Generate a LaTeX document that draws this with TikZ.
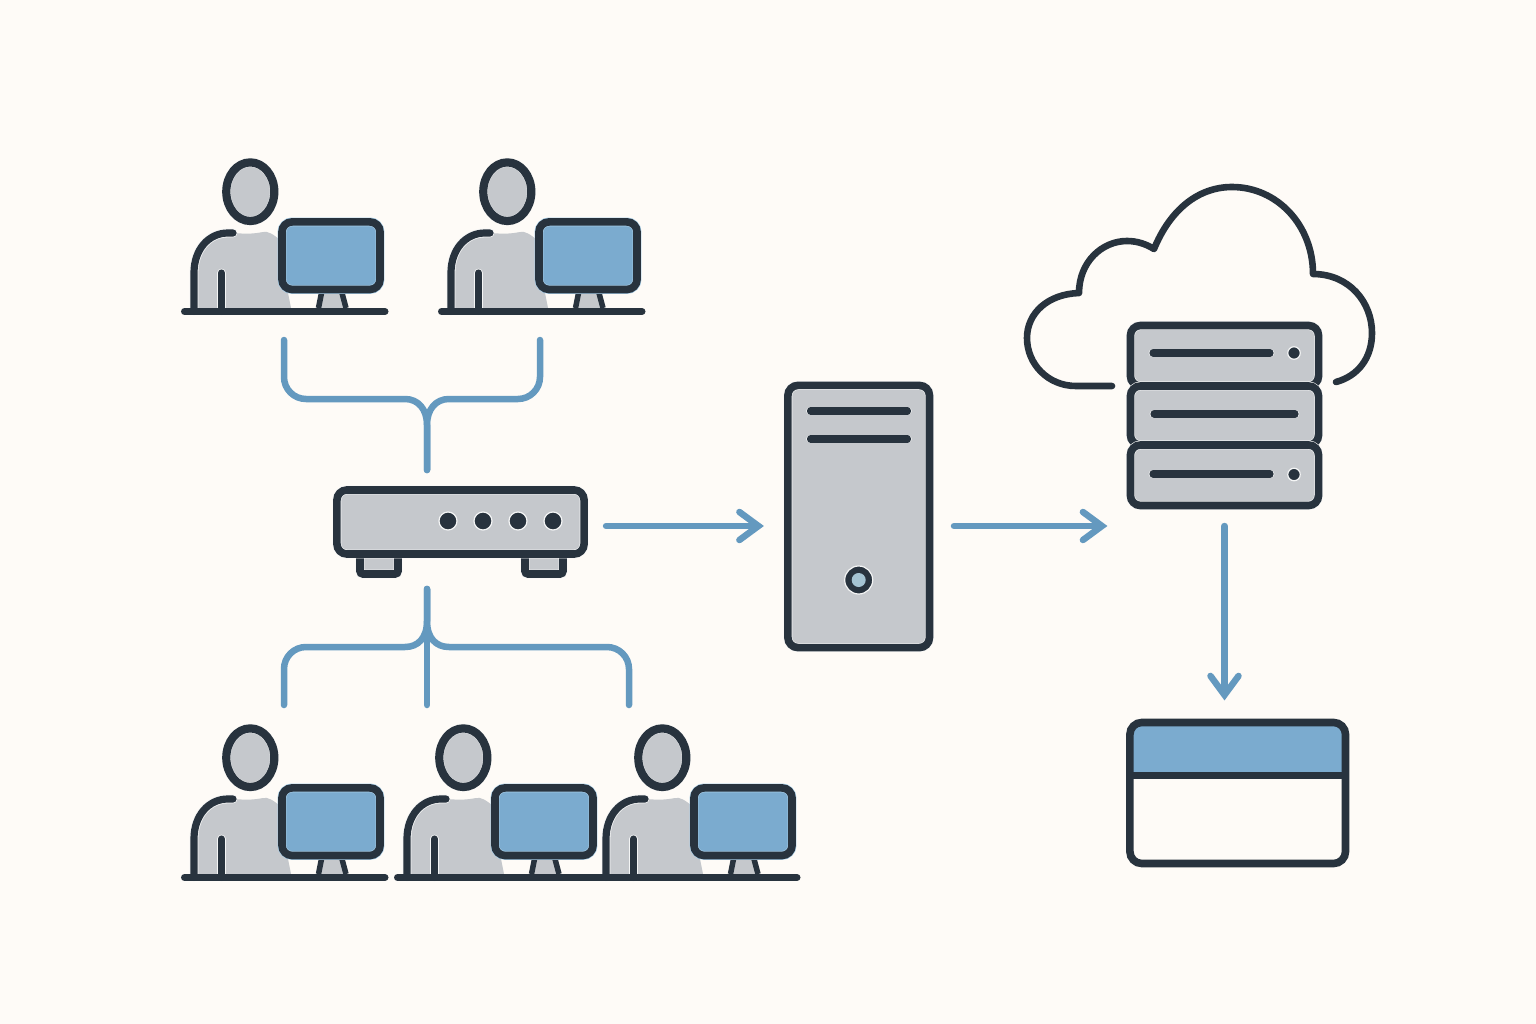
\documentclass[tikz,border=0pt]{standalone}
\usetikzlibrary{arrows.meta,shapes.geometric}
\definecolor{ink}{HTML}{28333E}
\definecolor{panel}{HTML}{C5C8CC}
\definecolor{screen}{HTML}{7BABCF}
\definecolor{screenrim}{HTML}{A6CDE8}
\definecolor{link}{HTML}{6499BF}
\definecolor{page}{HTML}{FEFBF7}
\definecolor{rim}{HTML}{F4F5F5}
\definecolor{lens}{HTML}{A4C3D2}
\tikzset{
  box/.style 2 args={preaction={fill=#1},preaction={draw=#2,line width=0.088cm},draw=ink,line width=0.076cm,inner sep=0pt,outer sep=0pt,rounded corners=0.1cm},
  unit/.style={box={panel}{rim}},
  bar/.style={preaction={draw=rim,line width=0.088cm,line cap=round},draw=ink,line width=0.072cm,line cap=round},
  led/.style={circle,fill=ink,draw=rim,line width=0.012cm,inner sep=0pt},
  link/.style={draw=link,line width=0.065cm,line cap=round,line join=round},
  flow/.style={link,->},
  >={Straight Barb[length=0.19cm,width=0.28cm,line cap=round,line join=miter]},
  desk/.pic={
    \fill[panel] (11,-3) -- (11,-36) .. controls (11,-60) and (30,-78) .. (52,-78)
      .. controls (62,-77) and (70,-77) .. (80,-79) .. controls (85,-80) and (90,-77) .. (97,-71)
      -- (105,-18) -- (108,-3) -- cycle;
    \draw[bar] (50,-78) -- (45,-78) .. controls (26,-78) and (11,-62) .. (11,-38) -- (11,0);
    \draw[bar] (38.5,-38) -- (38.5,0);
    \node[box={panel}{rim},ellipse,line width=0.082cm,minimum width=0.48cm,minimum height=0.586cm] (head) at (67.3,-119.3) {};
    \fill[panel] (137,-18) -- (159,-18) -- (163,-3) -- (135,-3) -- cycle;
    \draw[ink,line width=0.055cm] (138.5,-18) -- (135.5,-3);
    \draw[ink,line width=0.055cm] (159,-18) -- (163,-3);
    \node[box={screen}{screenrim},minimum width=0.98cm,minimum height=0.675cm] (monitor) at (148,-55.3) {};
    \draw[ink,line width=0.07cm,line cap=round] (1.5,0.5) -- (202,0.5);
  }
}
\begin{document}
\begin{tikzpicture}[x=0.01cm,y=-0.01cm]
  \fill[page] (0,0) rectangle (1536,1024);
  \useasboundingbox (0,0) rectangle (1536,1024);

  \pic (d1) at (183,311) {desk};
  \pic (d2) at (440,311) {desk};
  \pic (d3) at (183,877) {desk};
  \pic (d4) at (396,877) {desk};
  \pic (d5) at (595,877) {desk};

  \node[unit,minimum width=0.38cm,minimum height=0.24cm,rounded corners=0.03cm] (footl) at (379,562) {};
  \node[unit,minimum width=0.38cm,minimum height=0.24cm,rounded corners=0.03cm] (footr) at (544,562) {};
  \node[unit,minimum width=2.47cm,minimum height=0.64cm] (router) at (460.5,522) {};
  \foreach \x in {448,483,518,553}
    \node[led,minimum size=0.18cm] (led\x) at (\x,521) {};

  \node[unit,minimum width=1.415cm,minimum height=2.62cm] (tower) at (858.7,516.5) {};
  \draw[bar] (810.5,411) -- (907.5,411);
  \draw[bar] (810.5,439) -- (907.5,439);
  \node[led,minimum size=0.28cm] (disc) at (858.7,580) {};
  \node[circle,fill=lens,inner sep=0pt,minimum size=0.14cm] (lens) at (858.7,580) {};

  \draw[ink,line width=0.066cm,line cap=round,line join=round] (1112,386) -- (1076,386)
    .. controls (1048,386) and (1027,364) .. (1027,338)
    .. controls (1027,313) and (1048,294) .. (1079,293)
    .. controls (1079,262) and (1102,241) .. (1127,241)
    .. controls (1137,241) and (1146,244) .. (1154,249)
    .. controls (1170,210) and (1198,187) .. (1232,187)
    .. controls (1277,187) and (1313,225) .. (1313,274)
    .. controls (1349,274) and (1372,302) .. (1372,333)
    .. controls (1372,358) and (1358,376) .. (1336,382);

  \node[unit,minimum width=1.88cm,minimum height=0.605cm] (rack1) at (1224.5,355.75) {};
  \node[unit,minimum width=1.88cm,minimum height=0.59cm] (rack2) at (1224.5,415.5) {};
  \node[unit,minimum width=1.88cm,minimum height=0.605cm] (rack3) at (1224.5,475.25) {};
  \draw[bar] (1153,353) -- (1270,353);
  \draw[bar] (1154,414) -- (1295,414);
  \draw[bar] (1153,474) -- (1270,474);
  \node[led,minimum size=0.125cm] (dot1) at (1294,353) {};
  \node[led,minimum size=0.125cm] (dot3) at (1294,474.5) {};

  \fill[screen,rounded corners=0.12cm] (1130,775) -- (1130,722.5) -- (1345.5,722.5) -- (1345.5,775);
  \node[draw=ink,line width=0.076cm,inner sep=0pt,outer sep=0pt,rounded corners=0.12cm,minimum width=2.155cm,minimum height=1.41cm] (panelwin) at (1237.7,793) {};
  \draw[ink,line width=0.07cm] (panelwin.west |- 0,775) -- (panelwin.east |- 0,775);

  \coordinate (rtop) at (427,470);
  \coordinate (rbot) at (427,589);
  \coordinate (d1end) at (284,340);
  \coordinate (d2end) at (540,340);
  \coordinate (d3end) at (284,705);
  \coordinate (d4end) at (427,705);
  \coordinate (d5end) at (629,705);
  \coordinate (flowy) at (0,526);

  \draw[link] (rtop) -- (427,425) .. controls (427,409) and (418,399) .. (405,399) [rounded corners=0.22cm] -| (d1end);
  \draw[link] (rtop) -- (427,425) .. controls (427,409) and (436,399) .. (449,399) [rounded corners=0.22cm] -| (d2end);
  \draw[link] (rbot) -- (427,621) .. controls (427,638) and (418,647) .. (405,647) [rounded corners=0.22cm] -| (d3end);
  \draw[link] (rbot) -- (427,621) .. controls (427,638) and (436,647) .. (449,647) [rounded corners=0.22cm] -| (d5end);
  \draw[link] (rbot) -- (d4end);

  \draw[flow,shorten <=0.22cm,shorten >=0.24cm] (router.east |- flowy) -- (tower.west |- flowy);
  \draw[flow,shorten <=0.245cm,shorten >=0.23cm] (tower.east |- flowy) -- (rack2.west |- flowy);
  \draw[flow,shorten <=0.205cm,shorten >=0.22cm] (rack3.south) -- (rack3.south |- panelwin.north);
\end{tikzpicture}
\end{document}
